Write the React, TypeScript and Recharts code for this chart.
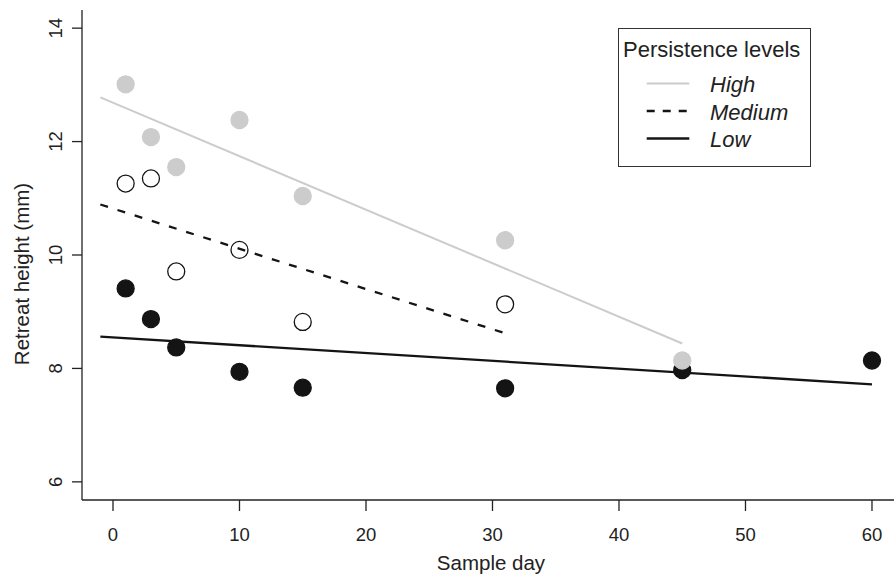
import React from "react";
import { ComposedChart, Scatter, XAxis, YAxis, Legend } from "recharts";

const highDays = [1, 3, 5, 10, 15, 31, 45];
const highValues = [13.01, 12.08, 11.55, 12.38, 11.04, 10.26, 8.14];
const mediumDays = [1, 3, 5, 10, 15, 31];
const mediumValues = [11.26, 11.35, 9.71, 10.09, 8.82, 9.13];
const lowDays = [1, 3, 5, 10, 15, 31, 45, 60];
const lowValues = [9.41, 8.87, 8.37, 7.94, 7.66, 7.65, 7.97, 8.14];

const highFitDays = [-1, 45];
const highFitValues = [12.78, 8.44];
const mediumFitDays = [-1, 31];
const mediumFitValues = [10.89, 8.62];
const lowFitDays = [-1, 60];
const lowFitValues = [8.56, 7.72];

const xTicks = [0, 10, 20, 30, 40, 50, 60];
const yTicks = [6, 8, 10, 12, 14];

const legendTitle = "Persistence levels";
const legendLabels = ["High", "Medium", "Low"];

const zip = (xs: number[], ys: number[]) => xs.map((x, i) => ({ x, y: ys[i] }));

const highData = zip(highDays, highValues);
const mediumData = zip(mediumDays, mediumValues);
const lowData = zip(lowDays, lowValues);
const highFit = zip(highFitDays, highFitValues);
const mediumFit = zip(mediumFitDays, mediumFitValues);
const lowFit = zip(lowFitDays, lowFitValues);

const GRAY = "#cccccc";
const BLACK = "#141414";
const TEXT = "#222222";
const FONT = "'Liberation Sans', Arial, Helvetica, sans-serif";

const dot = (fill: string, stroke: string) => (props: any) => {
  const { cx, cy } = props;
  if (cx == null || cy == null) return <g />;
  return <circle cx={cx} cy={cy} r={8.5} fill={fill} stroke={stroke} strokeWidth={1.3} />;
};

const noShape = () => <g />;

const XTick = (props: any) => {
  const { x, payload } = props;
  return (
    <text x={x} y={541} textAnchor="middle" fontSize={18.5} fontFamily={FONT} fill={TEXT}>
      {payload.value}
    </text>
  );
};

const YTick = (props: any) => {
  const { y, payload } = props;
  return (
    <text
      transform={`translate(61.5, ${y}) rotate(-90)`}
      textAnchor="middle"
      fontSize={18.5}
      fontFamily={FONT}
      fill={TEXT}
    >
      {payload.value}
    </text>
  );
};

const LegendBox = () => {
  const styles = [
    { stroke: GRAY, dash: undefined as string | undefined, width: 2 },
    { stroke: BLACK, dash: "8 8", width: 2.3 },
    { stroke: BLACK, dash: undefined as string | undefined, width: 2.3 },
  ];
  return (
    <svg width={194} height={140} style={{ display: "block" }}>
      <rect x={0.5} y={0.5} width={192} height={138} fill="#ffffff" stroke="#333333" strokeWidth={1} />
      <text x={5} y={29} fontSize={22} fontFamily={FONT} fill={TEXT}>
        {legendTitle}
      </text>
      {legendLabels.map((lab, i) => (
        <g key={lab}>
          <line
            x1={28.7}
            x2={71.3}
            y1={55.5 + i * 27.5}
            y2={55.5 + i * 27.5}
            stroke={styles[i].stroke}
            strokeWidth={styles[i].width}
            strokeDasharray={styles[i].dash}
          />
          <text x={92} y={64 + i * 27.5} fontSize={22} fontStyle="italic" fontFamily={FONT} fill={TEXT}>
            {lab}
          </text>
        </g>
      ))}
    </svg>
  );
};

export default function App() {
  return (
    <div style={{ position: "absolute", left: 0, top: 0, width: 894, height: 578, background: "#fff" }}>
      <ComposedChart width={894} height={578} margin={{ top: 10, right: 0, bottom: 0, left: 0 }}>
        <XAxis
          type="number"
          dataKey="x"
          domain={[-2.45, 61.74]}
          ticks={xTicks}
          allowDataOverflow
          height={78}
          tickSize={11}
          tick={<XTick />}
          axisLine={{ stroke: TEXT, strokeWidth: 1.3 }}
          tickLine={{ stroke: TEXT, strokeWidth: 1.3 }}
          label={{
            content: () => (
              <text x={491} y={570} textAnchor="middle" fontSize={20.5} fontFamily={FONT} fill={TEXT}>
                Sample day
              </text>
            ),
          }}
        />
        <YAxis
          type="number"
          dataKey="y"
          domain={[5.68, 14.32]}
          ticks={yTicks}
          allowDataOverflow
          width={82}
          tickSize={10}
          tick={<YTick />}
          axisLine={{ stroke: TEXT, strokeWidth: 1.3 }}
          tickLine={{ stroke: TEXT, strokeWidth: 1.3 }}
          label={{
            content: () => (
              <text
                transform="translate(28.5, 274) rotate(-90)"
                textAnchor="middle"
                fontSize={20.5}
                fontFamily={FONT}
                fill={TEXT}
              >
                Retreat height (mm)
              </text>
            ),
          }}
        />
        <Scatter name="Low" data={lowData} shape={dot(BLACK, BLACK)} isAnimationActive={false} />
        <Scatter name="Medium" data={mediumData} shape={dot("#ffffff", BLACK)} isAnimationActive={false} />
        <Scatter name="High" data={highData} shape={dot(GRAY, GRAY)} isAnimationActive={false} />
        <Scatter
          name="HighFit"
          data={highFit}
          shape={noShape}
          line={{ stroke: GRAY, strokeWidth: 2 }}
          lineType="joint"
          isAnimationActive={false}
        />
        <Scatter
          name="MediumFit"
          data={mediumFit}
          shape={noShape}
          line={{ stroke: BLACK, strokeWidth: 2.3, strokeDasharray: "8 10" }}
          lineType="joint"
          isAnimationActive={false}
        />
        <Scatter
          name="LowFit"
          data={lowFit}
          shape={noShape}
          line={{ stroke: BLACK, strokeWidth: 2.3 }}
          lineType="joint"
          isAnimationActive={false}
        />
        <Legend
          layout="horizontal"
          align="center"
          verticalAlign="middle"
          content={<LegendBox />}
          wrapperStyle={{ position: "absolute", left: 618, top: 28, width: 194, height: 140 }}
        />
      </ComposedChart>
    </div>
  );
}
